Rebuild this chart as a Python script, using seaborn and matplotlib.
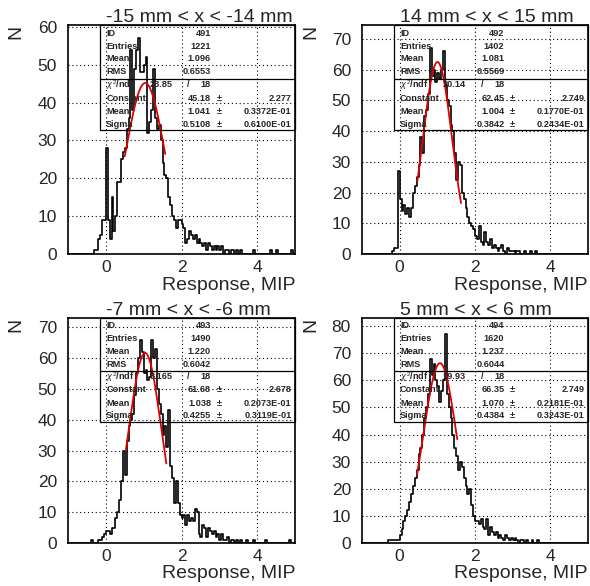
import numpy as np
import pandas as pd
import matplotlib
matplotlib.use('Agg')
import matplotlib.pyplot as plt
from matplotlib.patches import Rectangle
from matplotlib.ticker import MultipleLocator
import seaborn as sns

# binning: 120 bins of 0.05 MIP between -1 and 5
x_lo, x_hi, n_bins = -1.0, 5.0, 120

titles = ['-15 mm < x < -14 mm', '14 mm < x < 15 mm',
          '-7 mm < x < -6 mm', '5 mm < x < 6 mm']

# bin contents, one list per panel (10 bins per row = 0.5 MIP)
counts_1 = [0, 0, 0, 0, 0, 0, 0, 0, 0, 0,
            0, 0, 0, 0, 1, 1, 4, 5, 9, 9,
            28, 9, 4, 15, 6, 10, 19, 19, 25, 27,
            28, 33, 36, 54, 38, 49, 54, 57, 48, 48,
            50, 52, 32, 35, 38, 49, 36, 33, 34, 30,
            24, 21, 20, 15, 13, 10, 9, 7, 9, 9,
            8, 7, 3, 4, 6, 5, 4, 5, 3, 4,
            3, 2, 3, 1, 3, 2, 1, 2, 1, 2,
            1, 2, 0, 1, 1, 0, 1, 1, 0, 1,
            0, 1, 0, 0, 0, 0, 0, 0, 1, 0,
            0, 0, 0, 0, 0, 0, 0, 1, 0, 0,
            1, 0, 0, 0, 0, 0, 0, 0, 1, 0]
counts_2 = [0, 0, 0, 0, 0, 0, 0, 0, 0, 0,
            0, 0, 0, 0, 0, 0, 1, 2, 2, 27,
            18, 14, 16, 13, 15, 12, 15, 20, 22, 25,
            29, 38, 33, 45, 47, 52, 67, 58, 60, 56,
            59, 57, 60, 66, 55, 50, 48, 42, 40, 33,
            24, 30, 29, 20, 18, 15, 12, 10, 9, 8,
            6, 5, 9, 4, 3, 7, 4, 3, 5, 2,
            3, 2, 1, 2, 3, 1, 0, 2, 1, 1,
            1, 0, 1, 1, 0, 0, 1, 0, 0, 1,
            0, 0, 1, 0, 0, 0, 0, 0, 0, 0,
            0, 0, 0, 0, 0, 0, 0, 0, 0, 0,
            0, 0, 0, 0, 0, 0, 0, 0, 0, 0]
counts_3 = [0, 0, 0, 0, 0, 0, 0, 0, 0, 0,
            0, 0, 1, 0, 0, 0, 1, 1, 2, 3,
            4, 4, 3, 5, 5, 8, 10, 14, 20, 30,
            22, 33, 38, 40, 42, 48, 55, 60, 66, 62,
            55, 56, 53, 54, 66, 60, 63, 50, 45, 42,
            35, 38, 31, 43, 25, 21, 13, 20, 13, 9,
            8, 9, 6, 9, 7, 8, 7, 11, 10, 3,
            2, 6, 5, 2, 5, 4, 3, 4, 2, 3,
            1, 3, 1, 1, 2, 0, 1, 1, 0, 1,
            0, 1, 0, 0, 1, 0, 0, 0, 1, 0,
            0, 0, 0, 0, 1, 0, 0, 0, 0, 0,
            0, 0, 0, 0, 0, 0, 0, 1, 0, 0]
counts_4 = [0, 0, 0, 0, 0, 0, 0, 0, 0, 0,
            0, 0, 0, 0, 1, 1, 1, 1, 1, 1,
            3, 5, 8, 10, 12, 15, 18, 21, 24, 27,
            33, 35, 40, 46, 50, 55, 68, 62, 66, 60,
            58, 52, 56, 60, 77, 55, 50, 46, 40, 35,
            32, 27, 30, 28, 24, 21, 18, 20, 14, 10,
            8, 8, 7, 9, 6, 5, 9, 3, 6, 4,
            3, 4, 2, 3, 2, 1, 3, 2, 1, 2,
            1, 2, 1, 0, 1, 1, 0, 1, 0, 0,
            1, 0, 0, 1, 0, 0, 0, 0, 0, 0,
            0, 0, 0, 0, 0, 0, 0, 0, 0, 0,
            0, 0, 0, 0, 0, 0, 0, 0, 0, 0]
all_counts = [counts_1, counts_2, counts_3, counts_4]
y_max = [60.5, 74.5, 73, 83]

# stat box text
hist_id = ['491', '492', '493', '494']
entries = ['1221', '1402', '1490', '1620']
mean = ['1.096', '1.081', '1.220', '1.237']
rms = ['0.6553', '0.5569', '0.6042', '0.6044']
chi2 = ['23.85', '20.14', '8.165', '19.93']
ndf = ['18', '18', '18', '18']
const = ['45.18', '62.45', '61.68', '66.35']
const_err = ['2.277', '2.749', '2.678', '2.749']
fit_mean = ['1.041', '1.004', '1.038', '1.070']
fit_mean_err = ['0.3372E-01', '0.1770E-01', '0.2073E-01', '0.2181E-01']
fit_sigma = ['0.5108', '0.3842', '0.4255', '0.4384']
fit_sigma_err = ['0.6100E-01', '0.2434E-01', '0.3119E-01', '0.3243E-01']
fit_range = [(0.50, 1.57), (0.47, 1.63), (0.53, 1.60), (0.46, 1.53)]

sns.set_style('white')
plt.rcParams['font.family'] = ['Liberation Sans', 'DejaVu Sans']
plt.rcParams['mathtext.fontset'] = 'custom'
plt.rcParams['mathtext.rm'] = 'Liberation Sans'
plt.rcParams['mathtext.it'] = 'Liberation Sans:italic'
plt.rcParams['mathtext.bf'] = 'Liberation Sans:bold'

fig = plt.figure(figsize=(5.9, 5.86), dpi=100)
W, H = 590, 586
# axes rectangles in pixels: left, top, right, bottom
boxes_px = [(68, 25, 295, 254), (362, 25, 588, 254),
            (68, 318, 295, 543), (362, 318, 588, 543)]

bin_w = (x_hi - x_lo) / n_bins
centers = x_lo + bin_w * (np.arange(n_bins) + 0.5)


def stat_box(ax, i):
    lw = 0.9
    ax.add_patch(Rectangle((0.143, 0.54), 0.857, 0.46, transform=ax.transAxes,
                           fill=False, lw=lw, ec='k', zorder=4, clip_on=False))
    ax.plot([0.143, 1.0], [0.765, 0.765], transform=ax.transAxes, color='k', lw=lw, zorder=4)
    rows = [0.965, 0.908, 0.852, 0.795, 0.738, 0.68, 0.622, 0.565]
    kw = dict(transform=ax.transAxes, fontsize=6.6, fontweight='bold', va='center', zorder=5)
    xl, xv, xpm, xe = 0.168, 0.63, 0.667, 0.985
    for y, lab, val in zip(rows[:4], ['ID', 'Entries', 'Mean', 'RMS'],
                           [hist_id[i], entries[i], mean[i], rms[i]]):
        ax.text(xl, y, lab, ha='left', **kw)
        ax.text(xv, y, val, ha='right', **kw)
    ax.text(xl, rows[4], r'$\chi^2$/ndf', ha='left', **kw)
    ax.text(0.46, rows[4], chi2[i], ha='right', **kw)
    ax.text(0.53, rows[4], '/', ha='center', **kw)
    ax.text(xv, rows[4], ndf[i], ha='right', **kw)
    for y, lab, val, err in zip(rows[5:], ['Constant', 'Mean', 'Sigma'],
                                [const[i], fit_mean[i], fit_sigma[i]],
                                [const_err[i], fit_mean_err[i], fit_sigma_err[i]]):
        ax.text(xl, y, lab, ha='left', **kw)
        ax.text(xv, y, val, ha='right', **kw)
        ax.text(xpm, y, '±', ha='center', **kw)
        ax.text(xe, y, err, ha='right', **kw)


for i in range(4):
    l, t, r, b = boxes_px[i]
    ax = fig.add_axes([l / W, 1 - b / H, (r - l) / W, (b - t) / H])
    df = pd.DataFrame({'response': centers, 'n': np.array(all_counts[i], dtype=float)})
    sns.histplot(data=df, x='response', weights='n', bins=n_bins, binrange=(x_lo, x_hi),
                 element='step', fill=False, color='black', linewidth=1.2, ax=ax)
    c, mu, sg = float(const[i]), float(fit_mean[i]), float(fit_sigma[i])
    xs = np.linspace(fit_range[i][0], fit_range[i][1], 200)
    sns.lineplot(x=xs, y=c * np.exp(-0.5 * ((xs - mu) / sg) ** 2), color='#e00000',
                 linewidth=1.3, ax=ax, zorder=3)
    ax.set_xlim(x_lo, x_hi)
    ax.set_ylim(0, y_max[i])
    ax.xaxis.set_major_locator(MultipleLocator(2))
    ax.xaxis.set_minor_locator(MultipleLocator(0.5))
    ax.yaxis.set_major_locator(MultipleLocator(10))
    ax.yaxis.set_minor_locator(MultipleLocator(2))
    ax.tick_params(which='both', direction='in', top=False, right=False,
                   labelsize=12.5, width=1)
    ax.tick_params(which='major', length=7)
    ax.tick_params(which='minor', length=3.5)
    ax.tick_params(axis='x', pad=4)
    ax.tick_params(axis='y', pad=8)
    ax.grid(True, which='major', ls=(0, (1, 2.5)), color='k', lw=0.8)
    for s in ax.spines.values():
        s.set_linewidth(1.2)
        s.set_color('k')
    ax.text(0.168, 1.015, titles[i], transform=ax.transAxes, ha='left',
            va='baseline', fontsize=14)
    ax.set_xlabel('Response, MIP', fontsize=14, loc='right')
    ax.xaxis.set_label_coords(1.0, -0.1)
    ax.set_ylabel('N', fontsize=14, loc='top')
    ax.yaxis.set_label_coords(-0.19, 1.0)
    stat_box(ax, i)

fig.savefig('out.png', dpi=100)
